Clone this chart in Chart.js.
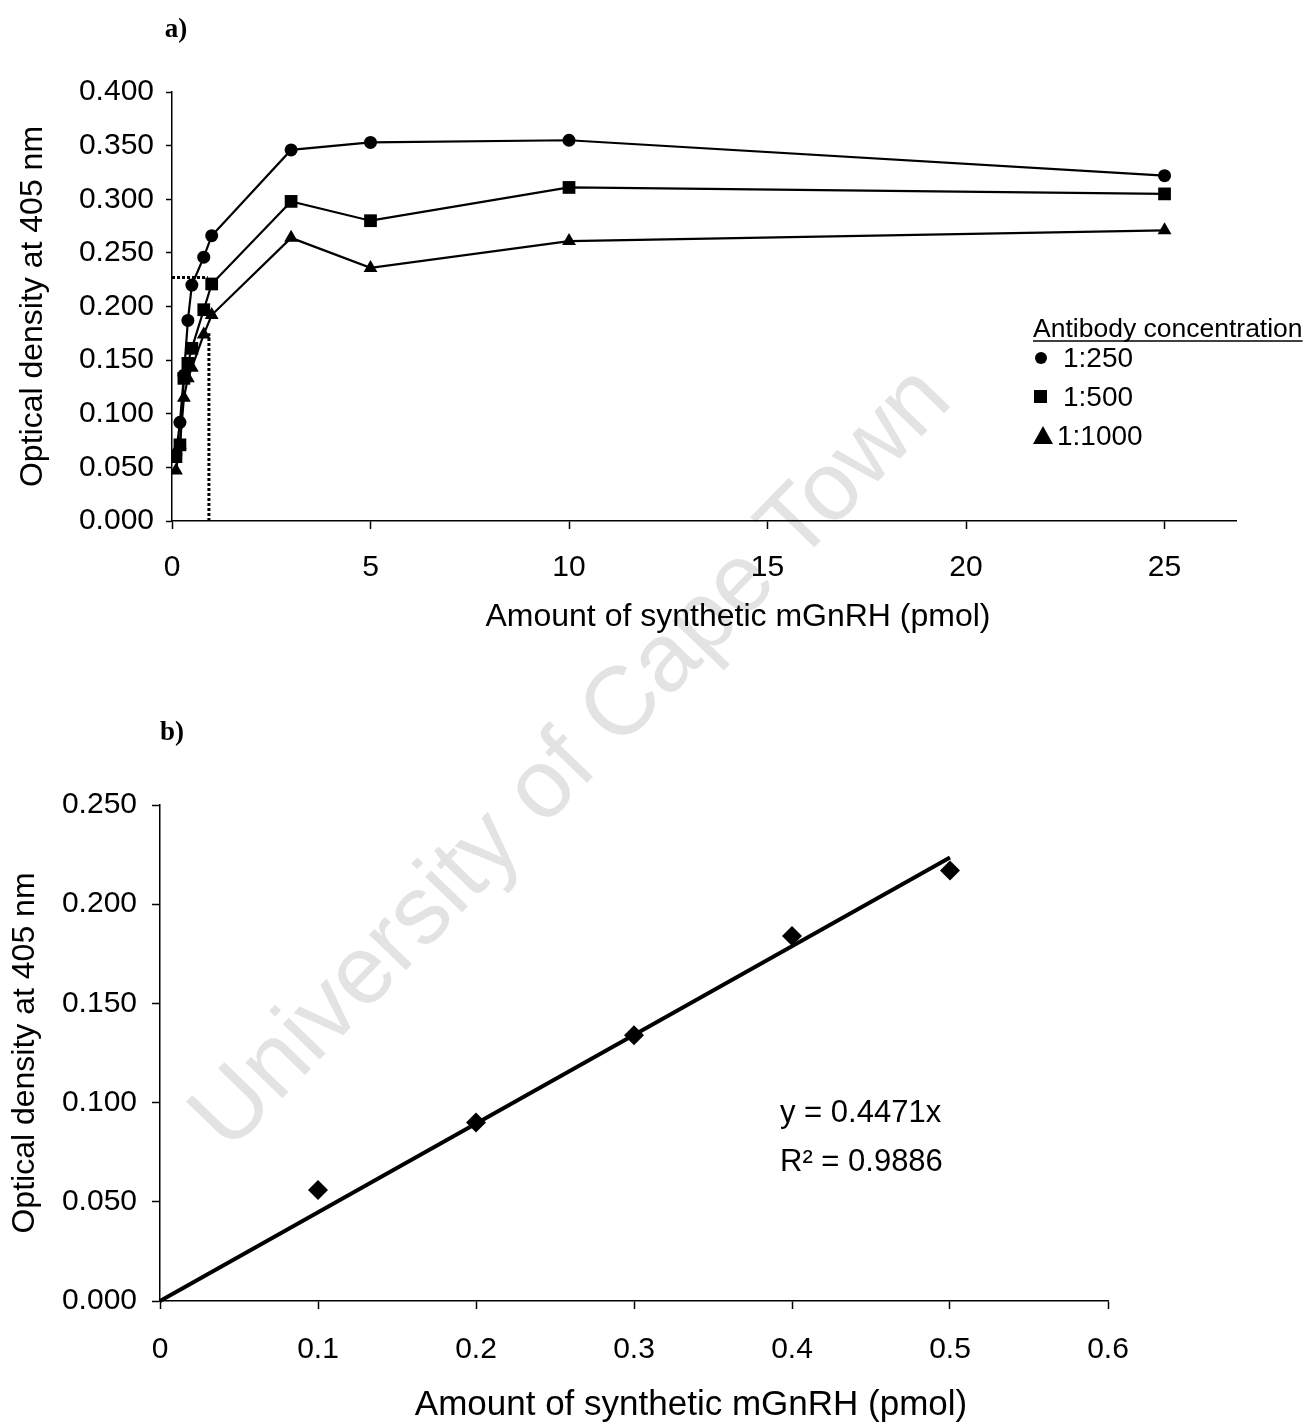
<!DOCTYPE html>
<html>
<head>
<meta charset="utf-8">
<script src="https://cdn.jsdelivr.net/npm/chart.js@4.4.1/dist/chart.umd.min.js"></script>
<style>
  html, body { margin: 0; background: #fff; }
  #page { position: relative; width: 1307px; height: 1423px; overflow: hidden; }
  canvas { position: absolute; left: 0; }
  #chartA { top: 0; }
  #chartB { top: 700px; }
  .watermark {
    position: absolute; left: 568px; top: 755px;
    transform: translate(-50%, -50%) rotate(-46deg);
    font: 97px "Liberation Sans", Arial, sans-serif;
    color: #e3e3e3; white-space: nowrap;
  }
</style>
</head>
<body>
<div id="page">
  <div class="watermark">University of Cape Town</div>
  <canvas id="chartA" width="1307" height="660"></canvas>
  <canvas id="chartB" width="1307" height="723"></canvas>
</div>
<script>
const FONT = '"Liberation Sans", Arial, sans-serif';
Chart.defaults.font.family = FONT;
Chart.defaults.color = '#000';

// a) antibody dilution curves
const doseA = [0.1, 0.2, 0.3, 0.4, 0.5, 0.8, 1, 3, 5, 10, 25];
const od250 = [0.062, 0.092, 0.136, 0.187, 0.220, 0.246, 0.266, 0.346, 0.353, 0.355, 0.322];
const od500 = [0.060, 0.071, 0.133, 0.147, 0.161, 0.197, 0.221, 0.298, 0.280, 0.311, 0.305];
const od1000 = [0.047, 0.071, 0.115, 0.133, 0.143, 0.174, 0.192, 0.264, 0.236, 0.261, 0.271];
const dilutions = ['1:250', '1:500', '1:1000'];
const markers = ['circle', 'rect', 'triangle'];
const markerSize = [6.5, 9, 8];
// dotted read-off lines
const cutoffOD = 0.227;
const cutoffDose = 0.93;
const cutoffTop = 0.175;

// b) standard curve
const doseB = [0.1, 0.2, 0.3, 0.4, 0.5];
const odB = [0.056, 0.090, 0.134, 0.184, 0.217];
const slope = 0.4471;
const rSquared = 0.9886;

const toXY = (xs, ys) => xs.map((x, i) => ({ x, y: ys[i] }));

function axisX(min, max, step, pad, fmt) {
  const ticks = { stepSize: step, includeBounds: false, padding: pad, maxRotation: 0, font: { size: 30 } };
  if (fmt) ticks.callback = fmt;
  return {
    type: 'linear', min, max,
    border: { color: '#000', width: 1.5 },
    grid: { drawOnChartArea: false, color: '#000', tickLength: 8, tickWidth: 1.5 },
    ticks,
    afterFit: s => { s.height = 60; }
  };
}
function axisY(max, width, pad, titlePad) {
  return {
    type: 'linear', min: 0, max,
    border: { color: '#000', width: 1.5 },
    grid: { drawOnChartArea: false, color: '#000', tickLength: pad.tick, tickWidth: 1.5 },
    ticks: { stepSize: 0.05, padding: pad.label, font: { size: 30 }, callback: v => v.toFixed(3) },
    title: { display: true, text: 'Optical density at 405 nm', font: { size: 32 }, padding: { top: titlePad } },
    afterFit: s => { s.width = width; }
  };
}

const seriesA = [od250, od500, od1000].map((ys, i) => ({
  label: dilutions[i],
  data: toXY(doseA, ys),
  showLine: true,
  borderColor: '#000', backgroundColor: '#000', borderWidth: 2.2,
  pointStyle: markers[i], pointRadius: markerSize[i], pointBorderWidth: 0
}));
const dotted = { showLine: true, borderColor: '#000', borderWidth: 3, borderDash: [3, 2], pointRadius: 0 };

const notesA = {
  id: 'notesA',
  afterDraw(chart) {
    const ctx = chart.ctx;
    ctx.save();
    ctx.fillStyle = '#000';
    ctx.strokeStyle = '#000';
    ctx.textBaseline = 'middle';
    ctx.textAlign = 'center';
    ctx.font = 'bold 27px "Liberation Serif", serif';
    ctx.fillText('a)', 176, 30);
    ctx.font = `32px ${FONT}`;
    ctx.fillText('Amount of synthetic mGnRH (pmol)', 738, 617);

    // legend box
    ctx.textAlign = 'left';
    ctx.textBaseline = 'alphabetic';
    ctx.font = `26.5px ${FONT}`;
    const head = 'Antibody concentration';
    ctx.fillText(head, 1033, 337);
    ctx.lineWidth = 1.5;
    ctx.beginPath();
    ctx.moveTo(1033, 341);
    ctx.lineTo(1033 + ctx.measureText(head).width, 341);
    ctx.stroke();
    ctx.font = `28px ${FONT}`;
    ctx.textBaseline = 'middle';
    const rows = [358, 397, 436];
    rows.forEach((y, i) => {
      ctx.beginPath();
      if (markers[i] === 'circle') ctx.arc(1041, y, 6, 0, Math.PI * 2);
      if (markers[i] === 'rect') ctx.rect(1034, y - 7, 13, 13);
      if (markers[i] === 'triangle') { ctx.moveTo(1043, y - 10); ctx.lineTo(1053, y + 8); ctx.lineTo(1033, y + 8); ctx.closePath(); }
      ctx.fill();
      ctx.fillText(dilutions[i], markers[i] === 'triangle' ? 1057 : 1063, y + 1);
    });
    ctx.restore();
  }
};

new Chart(document.getElementById('chartA'), {
  type: 'scatter',
  data: {
    datasets: [
      ...seriesA,
      { ...dotted, data: [{ x: 0, y: cutoffOD }, { x: cutoffDose - 0.03, y: cutoffOD }] },
      { ...dotted, data: [{ x: cutoffDose, y: 0 }, { x: cutoffDose, y: cutoffTop }] }
    ]
  },
  options: {
    responsive: false, animation: false, devicePixelRatio: 1,
    layout: { padding: { left: 0, top: 92, right: 71, bottom: 79 } },
    plugins: { legend: { display: false }, tooltip: { enabled: false } },
    scales: {
      x: axisX(0, 26.8, 5, 21),
      y: axisY(0.4, 172, { tick: 6, label: 12 }, 14)
    }
  },
  plugins: [notesA]
});

const notesB = {
  id: 'notesB',
  afterDraw(chart) {
    const ctx = chart.ctx;
    ctx.save();
    ctx.fillStyle = '#000';
    ctx.textBaseline = 'middle';
    ctx.textAlign = 'center';
    ctx.font = 'bold 27px "Liberation Serif", serif';
    ctx.fillText('b)', 172, 33);
    ctx.font = `35px ${FONT}`;
    ctx.fillText('Amount of synthetic mGnRH (pmol)', 691, 705);
    ctx.textAlign = 'left';
    ctx.font = `31px ${FONT}`;
    ctx.fillText(`y = ${slope}x`, 780, 413);
    ctx.fillText(`R\u00B2 = ${rSquared}`, 780, 462);
    ctx.restore();
  }
};

const lastDose = doseB[doseB.length - 1];
new Chart(document.getElementById('chartB'), {
  type: 'scatter',
  data: {
    datasets: [
      { label: 'OD', data: toXY(doseB, odB), backgroundColor: '#000', borderColor: '#000',
        pointStyle: 'rectRot', pointRadius: 10, pointBorderWidth: 0 },
      { label: 'fit', data: [{ x: 0, y: 0 }, { x: lastDose, y: slope * lastDose }],
        showLine: true, borderColor: '#000', borderWidth: 4, pointRadius: 0, clip: false }
    ]
  },
  options: {
    responsive: false, animation: false, devicePixelRatio: 1,
    layout: { padding: { left: 0, top: 105, right: 199, bottom: 62 } },
    plugins: { legend: { display: false }, tooltip: { enabled: false } },
    scales: {
      x: axisX(0, 0.6, 0.1, 23, v => (v === 0 ? '0' : v.toFixed(1))),
      y: axisY(0.25, 160, { tick: 8, label: 15 }, 6)
    }
  },
  plugins: [notesB]
});
</script>
</body>
</html>
